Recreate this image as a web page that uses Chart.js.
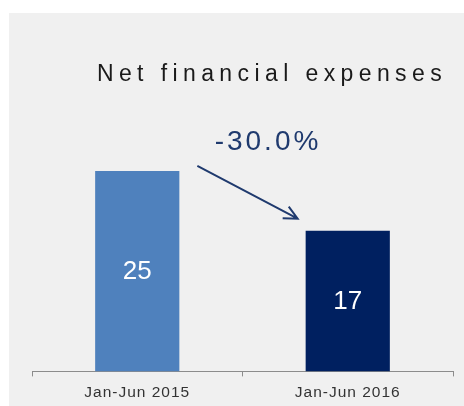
<!DOCTYPE html>
<html>
<head>
<meta charset="utf-8">
<script src="https://cdn.jsdelivr.net/npm/chart.js@4"></script>
<style>
  html, body { margin: 0; padding: 0; background: #ffffff; }
  #wrap { width: 464px; height: 406px; }
</style>
</head>
<body>
<div id="wrap"><canvas id="chart" width="464" height="406"></canvas></div>
<script>
// Chart data
const categories = ['Jan-Jun 2015', 'Jan-Jun 2016'];
const values = [24.5, 17.2];
const barColors = ['#4f81bd', '#002060'];
const chartTitle = 'Net financial expenses';
const changeLabel = '-30.0%';

// grey panel behind the chart, spaced-out axis labels
const panelPlugin = {
    id: 'panel',
    beforeDraw(chart) {
        const ctx = chart.ctx;
        ctx.save();
        ctx.fillStyle = '#f0f0f0';
        ctx.fillRect(9, 13, chart.width - 9, chart.height - 13);
        ctx.restore();
        ctx.letterSpacing = '1px';
    }
};

// title, bar labels, change label and arrow
const overlayPlugin = {
    id: 'overlay',
    afterDraw(chart) {
        const ctx = chart.ctx;
        const bars = chart.getDatasetMeta(0).data;
        ctx.save();
        ctx.textAlign = 'center';
        ctx.textBaseline = 'middle';

        ctx.fillStyle = '#1a1a1a';
        ctx.font = '23px "Liberation Sans", Arial, sans-serif';
        ctx.letterSpacing = '5.4px';
        ctx.fillText(chartTitle, 272, 75);

        ctx.fillStyle = '#1f3a6e';
        ctx.font = '28px "Liberation Sans", Arial, sans-serif';
        ctx.letterSpacing = '3px';
        ctx.fillText(changeLabel, 268, 142);

        // values in the bars
        ctx.letterSpacing = '0px';
        ctx.fillStyle = '#ffffff';
        ctx.font = '26px "Liberation Sans Narrow", "Liberation Sans", Arial, sans-serif';
        bars.forEach((bar, i) => {
            ctx.fillText(String(Math.round(values[i])), bar.x, (bar.y + bar.base) / 2 + 1);
        });

        // arrow from first bar to second
        const b0 = bars[0], b1 = bars[1];
        const x0 = b0.x + b0.width / 2 + 18, y0 = b0.y - 5;
        const x1 = b1.x - b1.width / 2 - 8, y1 = b1.y - 12;
        const ang = Math.atan2(y1 - y0, x1 - x0);
        ctx.strokeStyle = '#1f3a6e';
        ctx.lineWidth = 2;
        ctx.beginPath();
        ctx.moveTo(x0, y0);
        ctx.lineTo(x1, y1);
        ctx.moveTo(x1 - 15 * Math.cos(ang - 0.45), y1 - 15 * Math.sin(ang - 0.45));
        ctx.lineTo(x1, y1);
        ctx.lineTo(x1 - 15 * Math.cos(ang + 0.45), y1 - 15 * Math.sin(ang + 0.45));
        ctx.stroke();
        ctx.restore();
    }
};

new Chart(document.getElementById('chart').getContext('2d'), {
    type: 'bar',
    data: {
        labels: categories,
        datasets: [{
            data: values,
            backgroundColor: barColors,
            borderWidth: 0,
            barPercentage: 0.8,
            categoryPercentage: 0.5
        }]
    },
    options: {
        responsive: false,
        animation: false,
        layout: { padding: { left: 32, right: 11, top: 85, bottom: -3 } },
        plugins: {
            legend: { display: false },
            title: { display: false },
            tooltip: { enabled: false }
        },
        scales: {
            x: {
                grid: {
                    offset: true,
                    drawOnChartArea: false,
                    drawTicks: true,
                    tickLength: 5,
                    color: '#8c8c8c'
                },
                border: { display: true, color: '#8c8c8c', width: 1 },
                ticks: {
                    color: '#333333',
                    padding: 7,
                    font: { family: '"Liberation Sans", Arial, sans-serif', size: 15.5 }
                }
            },
            y: {
                display: false,
                min: 0,
                max: 35
            }
        }
    },
    plugins: [panelPlugin, overlayPlugin]
});
</script>
</body>
</html>
